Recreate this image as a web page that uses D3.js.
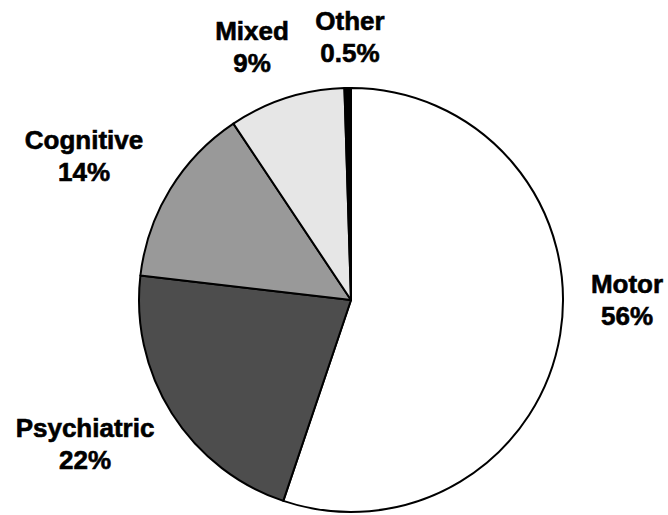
<!DOCTYPE html>
<html>
<head>
<meta charset="utf-8">
<script src="https://cdn.jsdelivr.net/npm/d3@7.9.0/dist/d3.min.js"></script>
<style>
  body { margin: 0; background: #fff; }
  text { font-family: "Liberation Sans", Arial, sans-serif; font-weight: bold; fill: #000; }
</style>
</head>
<body>
<div id="chart"></div>
<script>
const categories = ['Motor', 'Psychiatric', 'Cognitive', 'Mixed', 'Other'];
const values = [56, 22, 14, 9, 0.5];
const labels = ['56%', '22%', '14%', '9%', '0.5%'];
const colors = ['#ffffff', '#4d4d4d', '#999999', '#e6e6e6', '#000000'];
// label anchor (center x, first baseline y)
const labelPos = [[627, 293], [85, 437], [84, 149], [252, 40], [350, 30]];

const width = 668;
const height = 515;
const cx = 351, cy = 300, radius = 212;

const svg = d3.select('#chart')
  .append('svg')
  .attr('width', width)
  .attr('height', height);

const pie = d3.pie().sort(null).value((d) => d);
const arc = d3.arc().innerRadius(0).outerRadius(radius);

const slices = pie(values);

svg.append('g')
  .attr('transform', `translate(${cx},${cy})`)
  .selectAll('path')
  .data(slices)
  .join('path')
  .attr('d', arc)
  .attr('fill', (d, i) => colors[i])
  .attr('stroke', '#000')
  .attr('stroke-width', 2)
  .attr('stroke-linejoin', 'round');

const lbl = svg.append('g')
  .selectAll('text')
  .data(categories)
  .join('text')
  .attr('text-anchor', 'middle')
  .attr('font-size', 26)
  .attr('stroke', '#000')
  .attr('stroke-width', 0.6)
  .attr('x', (d, i) => labelPos[i][0])
  .attr('y', (d, i) => labelPos[i][1]);

lbl.append('tspan').text((d) => d);
lbl.append('tspan')
  .attr('x', (d, i) => labelPos[i][0])
  .attr('dy', 32)
  .text((d, i) => labels[i]);
</script>
</body>
</html>
